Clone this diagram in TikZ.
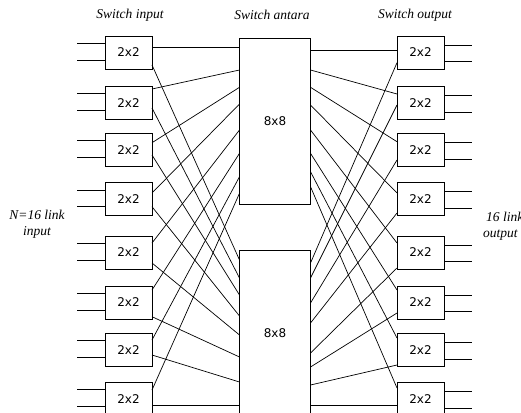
\documentclass[tikz,border=0pt]{standalone}
\usepackage{fontspec}
\setmainfont{Liberation Serif}
\newfontfamily\boxfont{DejaVu Sans}
\begin{document}
\begin{tikzpicture}[x=1pt,y=-1pt,
  wire/.style={line width=0.7pt},
  sbox/.style={draw, line width=0.7pt, minimum width=47pt, minimum height=33pt,
    inner sep=0pt, outer sep=0pt, font=\boxfont\fontsize{12}{14}\selectfont},
  mbox/.style={draw, line width=0.7pt, minimum width=71pt, minimum height=165.7pt,
    inner sep=0pt, outer sep=0pt, font=\boxfont\fontsize{12}{14}\selectfont},
  caption/.style={font=\itshape\fontsize{13.5}{16}\selectfont, align=center, inner sep=0pt}]
\clip (0,0) rectangle (521,412);
\fill[white] (0,0) rectangle (521,412);

% captions
\node[caption] (capin)  at (130,15) {Switch input};
\node[caption] (capmid) at (272,15) {Switch antara};
\node[caption] (capout) at (415,15) {Switch output};
\node[caption] (linkin)  at (37,224) {N=16 link\\input};
\node[caption, align=left, anchor=west] (linkout) at (483,226) {\hspace*{3pt}16 link\\output};

% middle stage
\node[mbox] (mu) at (275,121.15) {8x8};
\node[mbox] (ml) at (275,332.85) {8x8};

% first and last stage, with their outside links
\foreach \i/\t in {1/36,2/86.5,3/133.3,4/182.7,5/236,6/286,7/333.3,8/382.5} {
  \node[sbox] (in\i)  at (128.5,\t+16.5) {2x2};
  \node[sbox] (out\i) at (420.5,\t+16.5) {2x2};
  \coordinate (ia\i) at (77,\t+7.3);
  \coordinate (ib\i) at (77,\t+24);
  \coordinate (oa\i) at (472,\t+9);
  \coordinate (ob\i) at (472,\t+25.7);
  \draw[wire] (ia\i) -- (ia\i -| in\i.west);
  \draw[wire] (ib\i) -- (ib\i -| in\i.west);
  \draw[wire] (out\i.east |- oa\i) -- (oa\i);
  \draw[wire] (out\i.east |- ob\i) -- (ob\i);
}

% interstage wiring: box i of the first stage feeds input i of both
% middle switches, output j of both middle switches feeds box j
\foreach \i/\iu/\il/\mlu/\mll/\mru/\mrl/\ou/\ol in {
  1/47/65/47/260/50.7/263/50.7/62.7,
  2/89/108/70/278/70/278/94/105,
  3/142.7/155/87.3/295/87.3/303/141.7/160,
  4/193/206.7/104/316/105/323/193/213,
  5/243/263/130/335/130/353/243/268,
  6/290/316.7/153.3/357/153.3/367/290/313,
  7/340/355/176.7/382/171.7/385/338/365,
  8/390/405/193.3/405/186.7/405/388/405} {
  \coordinate (iu\i) at (152,\iu);
  \coordinate (il\i) at (152,\il);
  \coordinate (mlu\i) at (239.5,\mlu);
  \coordinate (mll\i) at (239.5,\mll);
  \coordinate (mru\i) at (310.5,\mru);
  \coordinate (mrl\i) at (310.5,\mrl);
  \coordinate (ou\i) at (397,\ou);
  \coordinate (ol\i) at (397,\ol);
  \draw[wire] (iu\i) -- (mlu\i);
  \draw[wire] (il\i) -- (mll\i);
  \draw[wire] (mru\i) -- (ou\i);
  \draw[wire] (mrl\i) -- (ol\i);
}
\end{tikzpicture}
\end{document}
